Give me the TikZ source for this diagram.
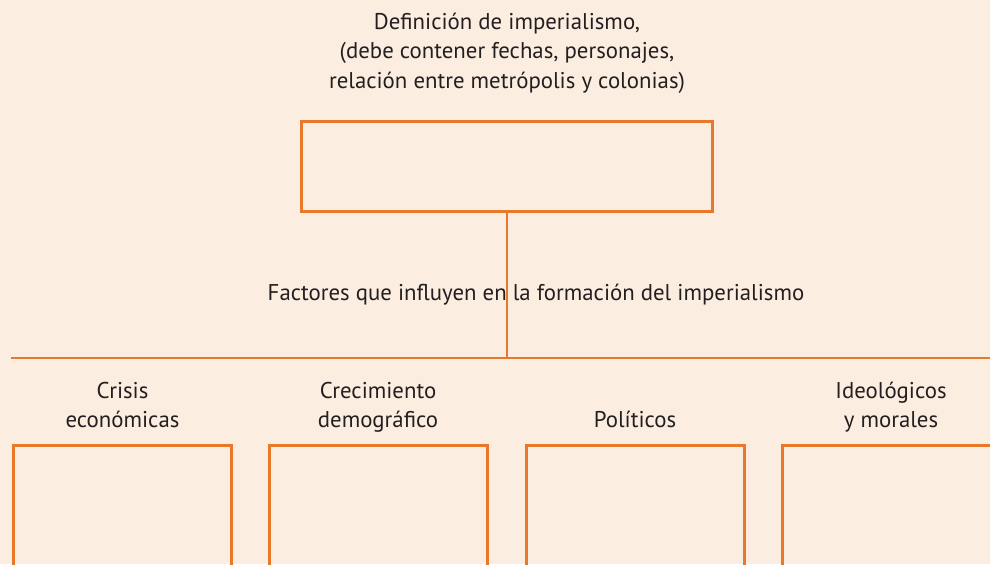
\documentclass[tikz,border=0pt]{standalone}
\usepackage{fontspec}
\setmainfont{PT Sans}
\usetikzlibrary{positioning}
\definecolor{pagebg}{HTML}{FCEDE1}
\definecolor{boxorange}{HTML}{E8782A}
\definecolor{inktext}{HTML}{231F20}

\begin{document}
\begin{tikzpicture}[x=0.5pt,y=-0.5pt]
\tikzset{
  framebox/.style={draw=boxorange,line width=1.5pt,inner sep=0pt,minimum width=109pt},
  labelnode/.style={text=inktext,font=\fontsize{11.4pt}{14.5pt}\selectfont,align=center,inner sep=0pt},
  joinline/.style={draw=boxorange,line width=0.8pt}
}
\fill[pagebg] (0,0) rectangle (990,564);
\useasboundingbox (0,0) rectangle (990,564);
\clip (0,0) rectangle (990,564);
\node[labelnode,anchor=base,font=\fontsize{11.4pt}{14.75pt}\selectfont] (n_def) at (507,88) {Definición de imperialismo,\\(debe contener fechas, personajes,\\relación entre metrópolis y colonias)};
\node[framebox,minimum width=205.5pt,minimum height=45pt] (n_defbox) at (507,166.5) {};
\node[labelnode,anchor=base] (n_factors) at (536,300) {Factores que influyen en la formación del imperialismo};
\coordinate (c_left) at (11,358);
\coordinate (c_right) at (995,358);
\node[labelnode,anchor=base] (n_crisis) at (122.5,427) {Crisis\\económicas};
\node[labelnode,anchor=base] (n_growth) at (378,427) {Crecimiento\\demográfico};
\node[labelnode,anchor=base] (n_politic) at (635,427) {Políticos};
\node[labelnode,anchor=base] (n_ideol) at (891,427) {Ideológicos\\y morales};
\node[framebox,anchor=north,minimum height=90pt] (n_crisisbox) at (122.5,443.5) {};
\node[framebox,anchor=north,minimum height=90pt] (n_growthbox) at (378,443.5) {};
\node[framebox,anchor=north,minimum height=90pt] (n_politicbox) at (635,443.5) {};
\node[framebox,anchor=north,minimum height=90pt] (n_ideolbox) at (891,443.5) {};
\draw[joinline] (c_left) -- (c_right);
\draw[joinline] (n_defbox.south) -- (n_defbox.south |- c_left);
\end{tikzpicture}
\end{document}
